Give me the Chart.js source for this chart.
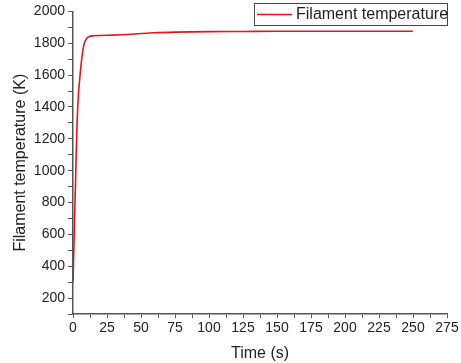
<!DOCTYPE html>
<html>
<head>
<meta charset="utf-8">
<script src="https://cdn.jsdelivr.net/npm/chart.js@4.4.1/dist/chart.umd.min.js"></script>
<style>
  html, body { margin: 0; padding: 0; background: #fff; }
  #wrap { width: 461px; height: 363px; position: relative; }
</style>
</head>
<body>
<div id="wrap"><canvas id="grafico"></canvas></div>
<script>
// dados
const tempos = [0, 1, 2, 3, 4, 5, 6, 7, 8, 9, 10, 12, 15, 20, 30, 40, 50, 60, 75, 100, 125, 150, 200, 250];
const temperaturas = [300, 640, 980, 1300, 1480, 1580, 1670, 1740, 1790, 1815, 1830, 1842, 1847, 1849, 1851, 1855, 1861, 1866, 1870, 1873, 1874, 1875, 1875, 1875];
const rotuloSerie = 'Filament temperature';
const ticksX = [0, 25, 50, 75, 100, 125, 150, 175, 200, 225, 250, 275];
const ticksY = [200, 400, 600, 800, 1000, 1200, 1400, 1600, 1800, 2000];

const corEixo = '#555';
const corTexto = '#222';
const fonte = 'Liberation Sans, Arial, sans-serif';

// legenda desenhada dentro da área
const legendaPlugin = {
    id: 'legendaCaixa',
    afterDraw(chart) {
        const ctx = chart.ctx;
        ctx.save();
        ctx.strokeStyle = '#444';
        ctx.lineWidth = 1;
        ctx.fillStyle = '#fff';
        ctx.fillRect(254.5, 3.5, 193, 22);
        ctx.strokeRect(254.5, 3.5, 193, 22);
        ctx.strokeStyle = '#e8141c';
        ctx.lineWidth = 1.5;
        ctx.beginPath();
        ctx.moveTo(257, 14.5);
        ctx.lineTo(292, 14.5);
        ctx.stroke();
        ctx.fillStyle = corTexto;
        ctx.font = '16px ' + fonte;
        ctx.textBaseline = 'middle';
        ctx.fillText(rotuloSerie, 296, 15);
        ctx.restore();
    }
};

function menores(inicio, fim, passo) {
    const v = [];
    for (let x = inicio; x <= fim + 1e-9; x += passo) v.push(x);
    return v;
}

new Chart(document.getElementById('grafico'), {
    type: 'line',
    data: {
        datasets: [{
            label: rotuloSerie,
            data: tempos.map((t, i) => ({ x: t, y: temperaturas[i] })),
            borderColor: '#e8141c',
            borderWidth: 1.6,
            pointRadius: 0,
            cubicInterpolationMode: 'monotone',
            fill: false
        }]
    },
    options: {
        responsive: true,
        maintainAspectRatio: false,
        animation: false,
        layout: { padding: { top: 11, right: 14, left: 0, bottom: 0 } },
        plugins: { legend: { display: false }, tooltip: { enabled: false } },
        scales: {
            x: {
                type: 'linear',
                min: 0,
                max: 275,
                afterBuildTicks: s => { s.ticks = menores(0, 275, 12.5).map(v => ({ value: v })); },
                afterFit: s => { s.height = 49; },
                ticks: {
                    color: corTexto,
                    font: { size: 14, family: fonte },
                    padding: 2,
                    maxRotation: 0,
                    autoSkip: false,
                    callback: v => ticksX.includes(v) ? String(v) : ''
                },
                grid: { drawOnChartArea: false, drawTicks: true, tickLength: 4, tickColor: corEixo, tickWidth: 1 },
                border: { display: true, color: corEixo, width: 1.5 },
                title: { display: true, text: 'Time (s)', color: corTexto, font: { size: 16, family: fonte }, padding: { top: 3, bottom: 0 } }
            },
            y: {
                type: 'linear',
                min: 100,
                max: 2000,
                afterBuildTicks: s => { s.ticks = menores(100, 2000, 100).map(v => ({ value: v })); },
                afterFit: s => { s.width = 73; },
                ticks: {
                    color: corTexto,
                    font: { size: 14, family: fonte },
                    padding: 3,
                    autoSkip: false,
                    callback: v => ticksY.includes(v) ? String(v) : ''
                },
                grid: { drawOnChartArea: false, drawTicks: true, tickLength: 5, tickColor: corEixo, tickWidth: 1 },
                border: { display: true, color: corEixo, width: 1.5 },
                title: { display: true, text: 'Filament temperature (K)', color: corTexto, font: { size: 16, family: fonte }, padding: { top: 11, bottom: 2 } }
            }
        }
    },
    plugins: [legendaPlugin]
});
</script>
</body>
</html>
